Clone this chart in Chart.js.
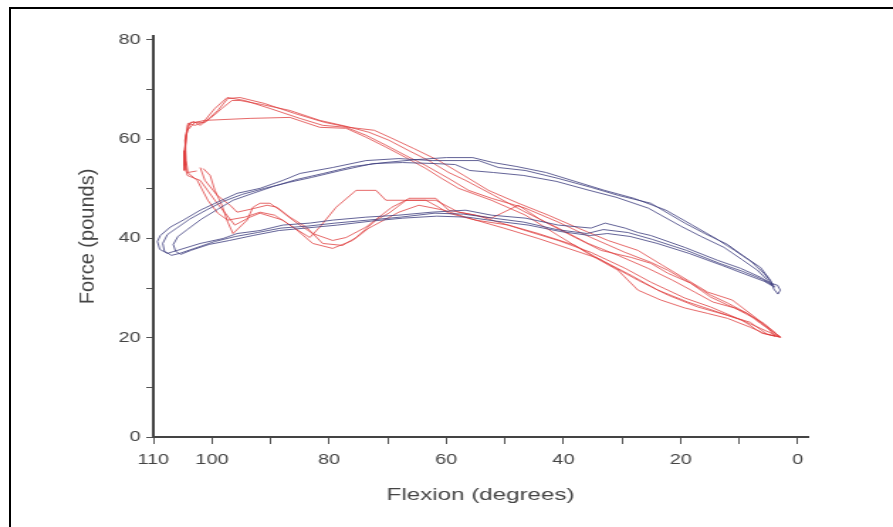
<!DOCTYPE html>
<html>
<head>
<meta charset="utf-8">
<script src="https://cdn.jsdelivr.net/npm/chart.js@4/dist/chart.umd.min.js"></script>
<style>
  html, body { margin: 0; padding: 0; background: #fff; }
  #page { position: relative; width: 893px; height: 527px; overflow: hidden; }
  #frame { position: absolute; left: 9px; top: 7px; right: -10px; bottom: -10px;
           border-left: 2px solid #000; border-top: 2px solid #000; }
  /* the source figure is stretched sideways, so the canvas is too */
  #wrap { position: absolute; left: 0; top: 0; width: 629px; height: 527px;
          transform: scaleX(1.4197); transform-origin: 0 0; }
  #chart { display: block; width: 629px; height: 527px; }
</style>
</head>
<body>
<div id="page">
  <div id="wrap"><canvas id="chart" width="629" height="527"></canvas></div>
  <div id="frame"></div>
</div>
<script>
const STRETCH = 1.4197;

// axis ticks
const xTicks = [110, 100, 90, 80, 70, 60, 50, 40, 30, 20, 10, 0];
const xTickLabels = [110, 100, 80, 60, 40, 20, 0];
const yTicks = [0, 10, 20, 30, 40, 50, 60, 70, 80];
const yTickLabels = [0, 20, 40, 60, 80];

// blue loops, [flexion, force]
const blueA = [[4.7,31.0],[6.4,32.2],[9.8,34.0],[13.7,35.6],[19.3,38.2],[25.1,40.6],[27.3,41.2],[29.5,42.1],[32.9,43.1],[35.3,42.1],[40.9,42.7],[46.5,44.1],[52.3,44.7],[56.7,45.7],[62.5,45.3],[68.1,44.7],[73.7,44.3],[79.4,43.7],[83.3,43.1],[87.9,42.7],[91.8,41.6],[95.7,41.0],[98.1,40.0],[102.0,39.0],[105.9,37.6],[107.6,37.0],[108.9,37.8],[109.3,39.4],[108.8,40.6],[107.1,42.3],[104.9,43.7],[102.0,45.7],[99.1,47.3],[95.7,49.1],[91.8,50.1],[87.9,51.7],[85.0,53.1],[79.4,54.3],[73.7,55.7],[68.1,56.1],[62.5,55.7],[57.9,55.7],[54.5,55.7],[51.1,54.3],[46.5,53.7],[40.9,52.1],[35.3,50.3],[30.7,48.7],[25.1,47.1],[19.3,43.1],[15.9,41.0],[12.0,38.8],[9.2,36.4],[6.4,34.2],[4.7,31.6],[4.1,29.8],[3.4,28.8],[3.0,29.6],[3.5,30.6],[4.7,31.0]];
const blueB = [[4.4,30.6],[6.1,31.8],[9.5,33.4],[13.4,35.0],[19.0,37.6],[24.8,39.8],[29.0,41.2],[33.2,41.8],[36.0,41.0],[41.2,41.8],[46.8,43.3],[52.0,44.1],[57.0,44.9],[62.0,45.1],[67.8,44.3],[73.4,43.7],[79.0,43.1],[83.6,42.5],[88.2,42.1],[92.2,41.2],[96.0,40.4],[99.5,39.4],[103.0,38.0],[105.5,37.0],[106.9,36.6],[108.1,37.4],[108.4,39.0],[107.6,40.8],[106.0,42.1],[103.8,43.9],[101.0,45.7],[98.0,47.5],[94.8,48.9],[91.0,50.1],[86.9,51.3],[83.0,52.3],[78.0,53.7],[72.5,55.1],[67.5,55.3],[62.0,55.1],[58.5,54.9],[56.0,53.7],[52.0,53.3],[46.8,52.7],[41.2,51.5],[35.6,49.7],[31.0,48.3],[25.5,46.1],[20.0,42.5],[16.5,40.4],[12.6,38.2],[9.6,35.8],[6.9,33.6],[5.0,31.4],[4.4,30.6]];
const blueC = [[4.0,30.2],[5.8,31.4],[9.0,32.8],[13.0,34.6],[18.6,37.0],[24.0,39.0],[28.6,40.4],[32.5,41.0],[35.5,40.6],[40.5,41.4],[46.0,42.7],[51.5,43.5],[56.4,44.3],[61.6,44.5],[67.4,44.1],[72.8,43.5],[78.6,42.7],[84.0,42.1],[88.6,41.6],[93.0,40.6],[97.0,39.6],[100.5,38.8],[103.6,37.6],[105.3,36.8],[106.2,37.4],[106.6,38.8],[105.8,40.4],[104.2,41.8],[101.8,43.9],[99.0,45.9],[96.4,47.7],[93.0,49.1],[89.5,50.5],[85.5,51.9],[81.0,53.1],[76.0,54.5],[70.5,55.3],[65.0,55.9],[60.0,56.3],[55.5,56.3],[52.0,55.3],[48.0,54.5],[43.0,53.3],[38.0,51.5],[33.0,49.7],[28.0,48.1],[22.5,45.7],[18.0,42.7],[14.0,40.0],[10.8,37.6],[8.0,35.4],[5.8,33.0],[4.4,31.0],[4.0,30.2]];

// red loops
const redA = [[102.0,54.3],[101.2,51.7],[99.1,48.7],[96.9,46.7],[95.7,45.3],[93.0,46.0],[90.6,46.7],[88.9,46.3],[86.7,44.3],[83.9,42.3],[81.1,39.0],[77.7,38.6],[75.4,40.2],[72.0,43.7],[69.8,45.1],[66.4,48.1],[61.8,48.1],[59.6,45.7],[55.0,44.7],[51.1,43.3],[46.5,41.6],[40.9,39.6],[35.3,37.2],[29.5,34.0],[25.1,31.2],[19.3,28.0],[14.9,26.2],[10.3,23.9],[6.4,21.9],[3.0,20.1],[5.8,22.9],[8.6,24.9],[12.0,27.0],[14.9,28.6],[18.3,31.0],[22.2,33.6],[25.1,35.2],[29.5,37.2],[35.3,40.2],[40.9,43.3],[46.5,46.1],[52.3,48.1],[56.2,49.7],[59.6,52.1],[63.5,54.7],[66.9,56.7],[70.3,58.8],[73.7,60.8],[77.1,62.4],[81.1,62.8],[85.0,64.2],[90.1,66.2],[94.4,67.8],[97.4,68.4],[99.5,66.2],[101.5,63.4],[102.9,62.8],[104.1,63.2],[104.4,60.8],[104.6,57.7],[104.6,54.7],[104.2,52.7]];
const redB = [[104.2,52.7],[102.0,51.7],[99.5,47.7],[96.1,42.7],[93.5,44.3],[91.8,45.1],[87.9,43.7],[86.2,42.3],[83.3,40.2],[81.6,42.3],[78.8,46.3],[75.4,49.7],[72.0,49.7],[70.3,47.7],[65.9,47.7],[61.8,47.7],[57.9,45.3],[52.3,44.1],[47.7,46.7],[43.8,43.7],[38.0,40.2],[33.6,37.6],[28.5,36.2],[25.1,35.0],[22.2,33.0],[18.3,31.0],[14.9,28.2],[12.0,26.6],[8.6,24.9],[6.4,22.9],[3.0,20.1],[5.8,20.9],[8.1,22.1],[12.0,23.9],[15.4,24.9],[19.3,26.0],[23.4,27.6],[27.3,29.6],[30.7,33.6],[35.3,36.6],[40.9,40.6],[46.5,44.7],[52.3,47.7],[57.9,50.1],[60.8,52.1],[63.5,54.1],[66.9,56.3],[70.3,58.4],[73.7,60.4],[77.1,62.2],[81.6,62.4],[86.7,64.4],[93.5,64.2],[101.2,63.8],[102.9,63.4],[104.2,61.8],[104.7,57.7],[104.7,53.7]];
const redC = [[101.5,54.1],[100.3,52.7],[99.5,49.7],[98.3,46.7],[97.3,43.3],[96.4,41.0],[94.0,43.7],[93.0,46.3],[91.8,47.1],[90.1,47.1],[88.4,45.7],[86.2,43.7],[85.0,42.7],[82.8,41.0],[79.4,39.6],[77.1,40.2],[73.7,42.3],[69.3,46.3],[66.9,47.7],[63.5,47.7],[61.3,46.3],[59.6,45.1],[55.0,43.7],[49.4,42.7],[44.3,41.0],[38.0,38.6],[32.9,35.2],[27.3,31.6],[22.2,28.6],[17.1,26.2],[12.0,24.5],[8.1,23.1],[5.2,20.7],[3.0,20.1],[4.4,21.5],[7.4,23.9],[10.8,26.0],[14.5,27.2],[17.6,29.2],[21.4,31.6],[25.6,34.0],[30.7,36.6],[35.8,39.0],[40.9,42.1],[46.5,45.3],[51.9,48.7],[56.7,51.7],[59.6,53.3],[63.0,55.7],[66.4,57.7],[69.8,59.8],[73.2,61.4],[77.1,62.6],[81.6,63.8],[86.7,65.8],[91.5,67.0],[95.2,67.8],[96.6,67.8],[98.3,66.2],[100.3,64.2],[102.0,62.8],[103.2,63.6],[104.1,62.8],[104.6,59.8],[104.4,55.7],[104.1,53.3],[102.6,53.6]];
const redD = [[104.4,53.5],[102.5,51.7],[100.7,47.7],[99.0,45.1],[97.3,43.7],[94.4,44.3],[91.8,45.3],[89.3,44.7],[85.9,42.1],[82.8,39.0],[79.4,38.0],[76.0,39.6],[73.2,42.1],[68.1,45.3],[64.7,46.7],[60.4,45.7],[56.2,44.1],[50.2,42.1],[44.3,40.0],[39.2,38.0],[34.1,36.0],[28.5,32.6],[23.9,29.6],[18.8,27.2],[13.7,25.2],[9.5,23.5],[6.1,20.9],[3.9,20.3],[5.2,22.1],[7.7,24.5],[11.2,27.6],[15.4,29.2],[18.8,31.6],[23.1,34.6],[27.3,37.6],[32.4,39.6],[37.5,42.1],[42.6,44.7],[47.7,47.1],[52.8,49.7],[57.0,52.7],[61.3,55.7],[65.5,58.1],[69.3,60.2],[72.3,61.8],[76.6,62.4],[80.8,63.4],[85.9,65.2],[91.0,67.2],[95.2,68.4],[97.3,68.2],[99.0,65.8],[101.2,63.4],[103.7,63.4],[104.4,60.8],[104.6,56.7],[104.4,53.7]];

const blueColor = 'rgba(60, 60, 125, 0.8)';
const redColor = 'rgba(222, 55, 55, 0.75)';

function trace(points, color) {
    return {
        data: points.map(p => ({ x: p[0], y: p[1] })),
        showLine: true,
        borderColor: color,
        borderWidth: 1,
        pointRadius: 0,
        tension: 0,
        fill: false
    };
}

// y title drawn un-stretched (it runs vertically, so the sideways stretch would only thicken it)
const yTitlePlugin = {
    id: 'yTitle',
    afterDraw(chart) {
        const c = chart.ctx;
        const area = chart.chartArea;
        c.save();
        c.translate(88 / STRETCH, (area.top + area.bottom) / 2);
        c.scale(1 / STRETCH, 1);
        c.rotate(-Math.PI / 2);
        c.font = '20px "Liberation Sans", Arial, sans-serif';
        c.fillStyle = '#444';
        c.textAlign = 'center';
        c.textBaseline = 'middle';
        c.fillText('Force (pounds)', 0, 0);
        c.restore();
    }
};

Chart.defaults.font.family = '"Liberation Sans", Arial, sans-serif';

const ctx = document.getElementById('chart').getContext('2d');
new Chart(ctx, {
    type: 'scatter',
    data: {
        datasets: [
            trace(blueA, blueColor), trace(blueB, blueColor), trace(blueC, blueColor),
            trace(redA, redColor), trace(redB, redColor), trace(redC, redColor), trace(redD, redColor)
        ]
    },
    options: {
        responsive: false,
        animation: false,
        devicePixelRatio: 1,
        layout: { padding: { left: 0, right: 60, top: 36, bottom: 0 } },
        plugins: { legend: { display: false }, tooltip: { enabled: false } },
        scales: {
            x: {
                type: 'linear',
                reverse: true,
                min: -1.7,
                max: 110,
                afterBuildTicks: s => { s.ticks = xTicks.map(v => ({ value: v })); },
                afterFit: s => { s.height = 90; },
                ticks: {
                    autoSkip: false,
                    maxRotation: 0,
                    padding: 8,
                    color: '#444',
                    font: { size: 14 },
                    callback: v => xTickLabels.includes(v) ? String(v) : ''
                },
                grid: { drawOnChartArea: false, drawTicks: true, tickLength: 7, color: '#555', tickWidth: 1 },
                border: { display: true, color: '#444', width: 2 },
                title: { display: true, text: 'Flexion (degrees)', color: '#444', font: { size: 17 }, padding: { bottom: 21 } }
            },
            y: {
                min: 0,
                max: 80.8,
                afterBuildTicks: s => { s.ticks = yTicks.map(v => ({ value: v })); },
                afterFit: s => { s.width = 108; },
                ticks: {
                    padding: 4,
                    color: '#444',
                    font: { size: 14 },
                    callback: v => yTickLabels.includes(v) ? String(v) : ''
                },
                grid: { drawOnChartArea: false, drawTicks: true, tickLength: 5, color: '#555', tickWidth: 1 },
                border: { display: true, color: '#444', width: 2 },
                title: { display: false }
            }
        }
    },
    plugins: [yTitlePlugin]
});
</script>
</body>
</html>
